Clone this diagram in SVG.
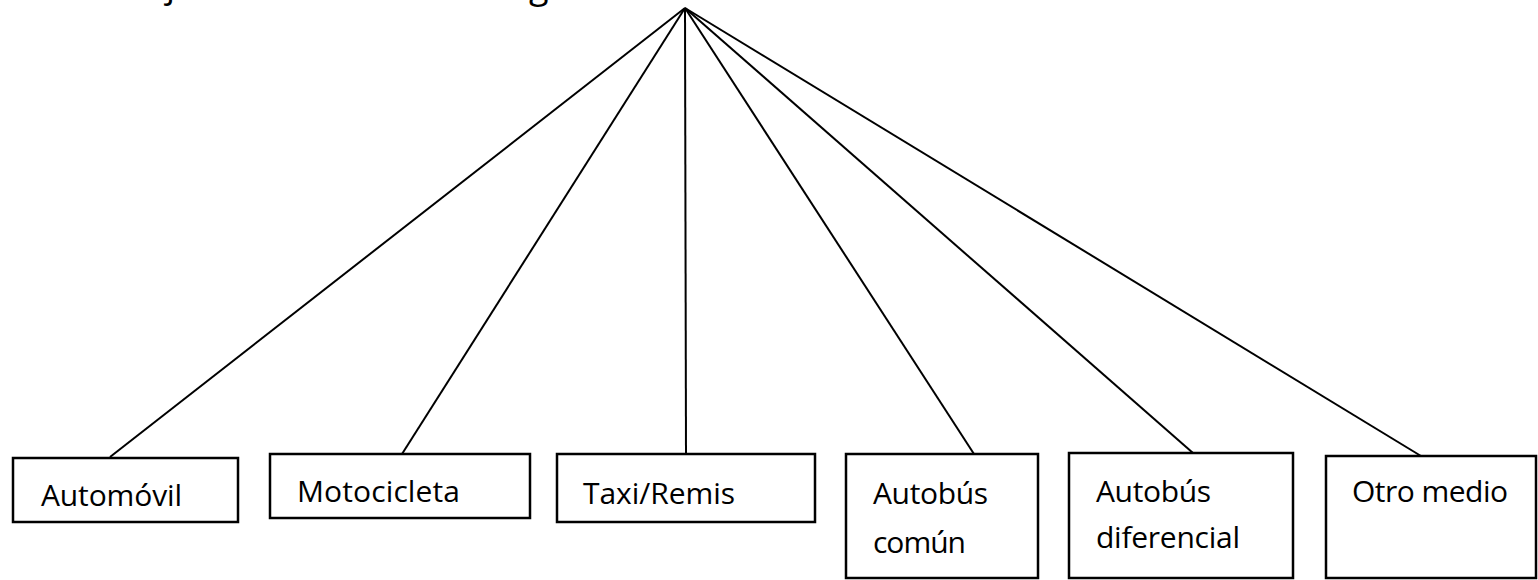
<svg xmlns="http://www.w3.org/2000/svg" width="1538" height="580" viewBox="0 0 1538 580">
<style>
.box{fill:#fff;stroke:#000;stroke-width:2.5}
.lbl{font-family:"Open Sans","Liberation Sans",sans-serif;font-size:30px;fill:#000}
.conn{stroke:#000;stroke-width:2;fill:none}
.head{font-family:"Open Sans","Liberation Sans",sans-serif;font-size:36px;fill:#000}
</style>
<rect width="1538" height="580" fill="#fff"/>
<g id="title">
<text class="head" x="166" y="-3">j</text>
<text class="head" x="529" y="-2">g</text>
</g>
<g id="connectors">
<line class="conn" x1="685" y1="8" x2="110" y2="457"/>
<line class="conn" x1="685" y1="8" x2="402" y2="454"/>
<line class="conn" x1="685" y1="8" x2="686" y2="454"/>
<line class="conn" x1="685" y1="8" x2="974" y2="454"/>
<line class="conn" x1="685" y1="8" x2="1193" y2="453"/>
<line class="conn" x1="685" y1="8" x2="1421" y2="456"/>
</g>
<g id="automovil">
<rect class="box" x="13" y="458" width="225" height="64"/>
<text class="lbl" x="41" y="506" textLength="141">Automóvil</text>
</g>
<g id="motocicleta">
<rect class="box" x="270" y="454" width="260" height="64"/>
<text class="lbl" x="297" y="502" textLength="163">Motocicleta</text>
</g>
<g id="taxi">
<rect class="box" x="557" y="454" width="258" height="68"/>
<text class="lbl" x="583" y="504" textLength="152">Taxi/Remis</text>
</g>
<g id="autobus-comun">
<rect class="box" x="846" y="454" width="192" height="124"/>
<text class="lbl" x="873" y="504" textLength="115">Autobús</text>
<text class="lbl" x="873" y="553" textLength="93">común</text>
</g>
<g id="autobus-diferencial">
<rect class="box" x="1069" y="453" width="224" height="125"/>
<text class="lbl" x="1096" y="502" textLength="115">Autobús</text>
<text class="lbl" x="1096" y="548" textLength="144">diferencial</text>
</g>
<g id="otro-medio">
<rect class="box" x="1326" y="456" width="210" height="122"/>
<text class="lbl" x="1352" y="502" textLength="156">Otro medio</text>
</g>
</svg>
